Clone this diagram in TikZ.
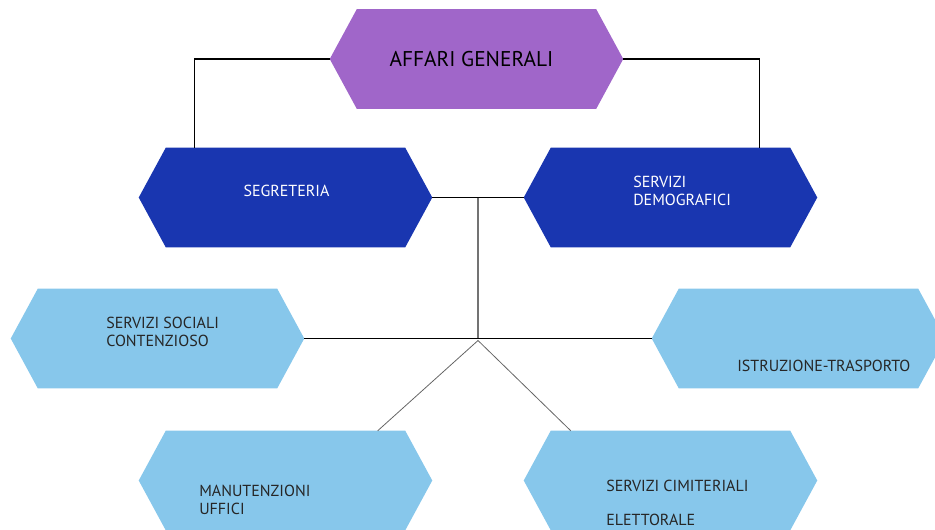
\documentclass[tikz,border=0pt]{standalone}
\usepackage{fontspec}
\setmainfont{PT Sans}
\usetikzlibrary{calc}
\definecolor{agpurple}{HTML}{A066C9}
\definecolor{deepblue}{HTML}{1936B0}
\definecolor{skyblue}{HTML}{87C7EB}
\tikzset{
  hexslot/.style={rectangle, minimum width=293*0.75pt, minimum height=99*0.75pt, inner sep=0pt},
  lbl/.style={inner sep=0pt, font=\fontsize{12pt}{13.5pt}\selectfont, align=left},
  link/.style={line width=0.8pt, black},
  trunk/.style={line width=1.2pt, black},
  twig/.style={line width=0.6pt, black!60},
}
% hexagon with pointed left and right ends, filled behind a named slot
\newcommand\hexfill[2]{%
  \fill[#2] (#1.west) -- ([xshift=27*0.75pt]#1.north west) -- ([xshift=-27*0.75pt]#1.north east)
    -- (#1.east) -- ([xshift=-27*0.75pt]#1.south east) -- ([xshift=27*0.75pt]#1.south west) -- cycle;}
\begin{document}
\begin{tikzpicture}[x=0.75pt, y=-0.75pt]
\useasboundingbox (0,0) rectangle (935,529);
% slots
\node[hexslot] (ag)  at (476.5,59)  {};
\node[hexslot] (seg) at (285.5,197.5) {};
\node[hexslot] (dem) at (670.5,197.5) {};
\node[hexslot] (soc) at (157.5,338.5) {};
\node[hexslot] (ist) at (798.5,338.5) {};
\node[hexslot] (man) at (285.5,480.5) {};
\node[hexslot] (cim) at (670.5,480.5) {};
% shapes
\hexfill{ag}{agpurple}
\hexfill{seg}{deepblue}
\hexfill{dem}{deepblue}
\hexfill{soc}{skyblue}
\hexfill{ist}{skyblue}
\hexfill{man}{skyblue}
\hexfill{cim}{skyblue}
% connectors
\draw[link] (ag.west) -| ([xshift=56*0.75pt]seg.north west);
\draw[link] (ag.east) -| ([xshift=-58*0.75pt]dem.north east);
\draw[link] (seg.east) -- (dem.west);
\coordinate (mid) at ($(seg.east)!0.5!(dem.west)$);
\coordinate (hub) at (mid |- soc.east);
\draw[line width=0.9pt, black!55] (mid) -- (hub);
\draw[trunk] (soc.east) -- (ist.west);
\coordinate (apex) at ($(hub)+(0,2)$);
\draw[twig] (apex) -- ([xshift=239*0.75pt]man.north west);
\draw[twig] (apex) -- ([xshift=47*0.75pt]cim.north west);
% labels
\node[inner sep=0pt, font=\fontsize{16pt}{19pt}\selectfont] (tag) at (471.5,59.5) {AFFARI GENERALI};
\node[lbl, text=white] (tseg) at (286.5,191) {SEGRETERIA};
\node[lbl, text=white, anchor=west] (tdem) at (633,190.5) {SERVIZI\\DEMOGRAFICI};
\node[lbl, text=black!85, anchor=west] (tsoc) at (106,331.5) {SERVIZI SOCIALI\\CONTENZIOSO};
\node[lbl, text=black!85, anchor=west] (tist) at (737,365.5) {ISTRUZIONE-TRASPORTO};
\node[lbl, text=black!85, anchor=west] (tman) at (199,500) {MANUTENZIONI\\UFFICI};
\node[lbl, text=black!85, anchor=west] (tcim) at (606,486) {SERVIZI CIMITERIALI};
\node[lbl, text=black!85, anchor=west] (tcim2) at (606,519.5) {ELETTORALE};
\end{tikzpicture}
\end{document}
